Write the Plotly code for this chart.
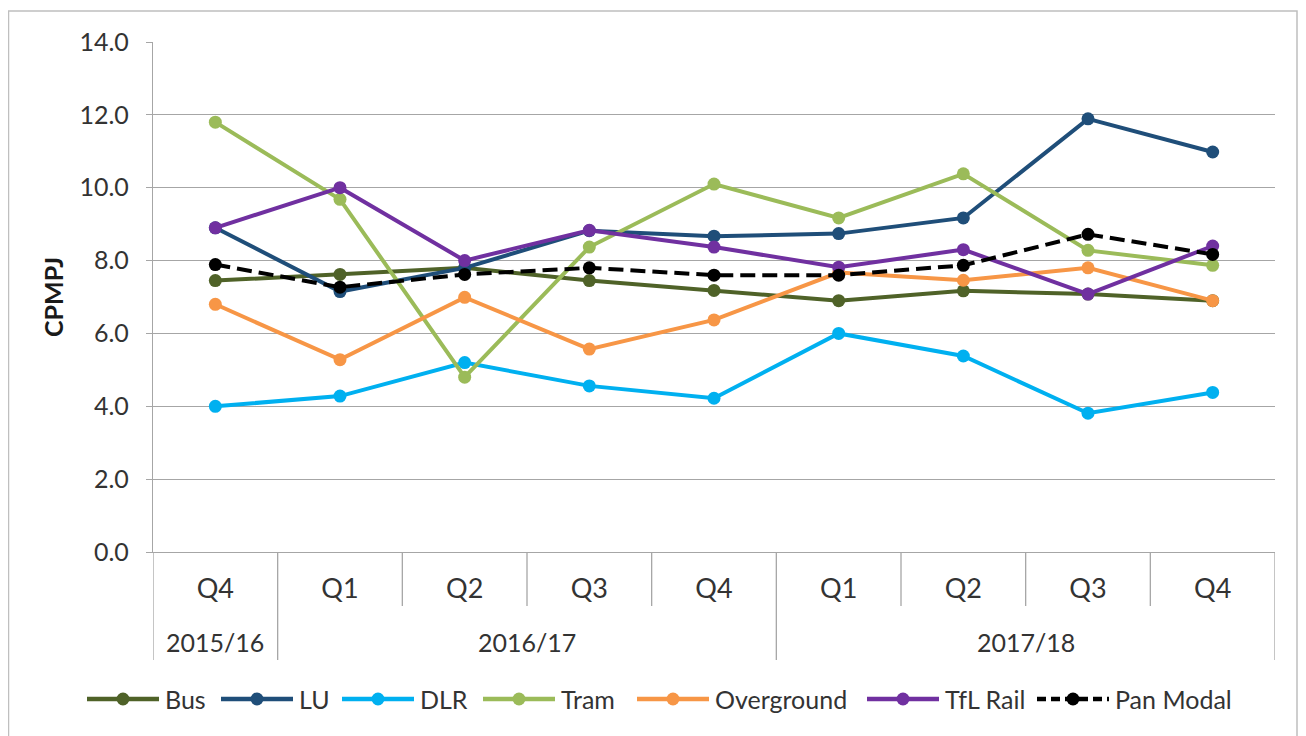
import plotly.graph_objects as go

# ---------------- data ----------------
quarters = ["Q4", "Q1", "Q2", "Q3", "Q4", "Q1", "Q2", "Q3", "Q4"]
years = ["2015/16", "2016/17", "2016/17", "2016/17", "2016/17",
         "2017/18", "2017/18", "2017/18", "2017/18"]

bus = [7.45, 7.62, 7.8, 7.45, 7.18, 6.9, 7.17, 7.08, 6.9]
lu = [8.9, 7.15, 7.8, 8.82, 8.67, 8.74, 9.17, 11.89, 10.98]
dlr = [4.0, 4.28, 5.2, 4.56, 4.22, 6.0, 5.38, 3.81, 4.38]
tram = [11.8, 9.68, 4.8, 8.37, 10.1, 9.17, 10.38, 8.28, 7.87]
overground = [6.8, 5.28, 6.99, 5.57, 6.37, 7.67, 7.46, 7.8, 6.9]
tfl_rail = [8.9, 10.0, 8.0, 8.83, 8.37, 7.82, 8.3, 7.08, 8.4]
pan_modal = [7.89, 7.27, 7.62, 7.8, 7.6, 7.6, 7.87, 8.72, 8.17]

series_names = ["Bus", "LU", "DLR", "Tram", "Overground", "TfL Rail", "Pan Modal"]
series_values = [bus, lu, dlr, tram, overground, tfl_rail, pan_modal]
series_colors = ["#4F6228", "#1F4E79", "#00B0F0", "#9BBB59", "#F79646", "#7030A0", "#000000"]

y_title = "CPMPJ"

# ---------------- layout geometry ----------------
OFF = 8                      # page offset of the figure (body margin)
W, H = 1306 - OFF, 736 - OFF
L0, T0 = 153, 42             # plot-area top-left in page pixels
PW, PH = 1122, 510
L, T = L0 - OFF, T0 - OFF
R, B = W - L - PW, H - T - PH


def px_x(px):
    return (px - L0) / PW


def px_y(py):
    return (T0 + PH - py) / PH


FONT = "Lato, 'Open Sans', sans-serif"
TEXT = "#333333"
GRID = "#A6A6A6"

x_idx = list(range(len(quarters)))

fig = go.Figure()
for name, vals, col in zip(series_names, series_values, series_colors):
    dash = "15px,7px" if name == "Pan Modal" else "solid"
    fig.add_trace(go.Scatter(
        x=x_idx, y=vals, name=name, mode="lines+markers",
        line=dict(color=col, width=4, dash=dash),
        marker=dict(color=col, size=13, symbol="circle"),
        showlegend=False,
    ))

shapes = []
annotations = []

# outer border
shapes.append(dict(type="rect", xref="paper", yref="paper",
                   x0=px_x(OFF + 0.5), x1=px_x(1297), y0=px_y(745), y1=px_y(11),
                   line=dict(color="#BFBFBF", width=1.5), layer="below"))

# category dividers
short_bottom = px_y(606)
long_bottom = px_y(660)
bounds = [-0.5] + [i + 0.5 for i in x_idx]
for b in bounds:
    i_left = int(b - 0.5)
    i_right = int(b + 0.5)
    is_long = (i_left < 0 or i_right >= len(years) or years[i_left] != years[i_right])
    shapes.append(dict(type="line", xref="x", yref="paper",
                       x0=b, x1=b, y0=0, y1=long_bottom if is_long else short_bottom,
                       line=dict(color=GRID, width=1.3)))

# year labels
seen = []
for yv in years:
    if yv not in seen:
        seen.append(yv)
for yv in seen:
    idx = [i for i, v in enumerate(years) if v == yv]
    annotations.append(dict(x=sum(idx) / len(idx), y=px_y(642), xref="x", yref="paper",
                            text=yv, showarrow=False, yanchor="middle",
                            font=dict(family=FONT, size=25, color=TEXT)))

# manual legend (line + marker + text)
legend_start_px = [87, 221, 342, 483, 637, 867, 1037]
legend_line_len = 72
legend_cy = 699
legend_y = px_y(legend_cy)
for name, col, x0 in zip(series_names, series_colors, legend_start_px):
    dash = "9px,5px" if name == "Pan Modal" else "solid"
    shapes.append(dict(type="line", xref="paper", yref="paper",
                       x0=px_x(x0), x1=px_x(x0 + legend_line_len), y0=legend_y, y1=legend_y,
                       line=dict(color=col, width=4.5, dash=dash)))
    cx = x0 + legend_line_len / 2
    shapes.append(dict(type="circle", xref="paper", yref="paper",
                       x0=px_x(cx - 6.5), x1=px_x(cx + 6.5),
                       y0=px_y(legend_cy + 6.5), y1=px_y(legend_cy - 6.5),
                       fillcolor=col, line=dict(color=col, width=0)))
    annotations.append(dict(x=px_x(x0 + legend_line_len + 4), y=legend_y, xref="paper", yref="paper",
                            text=name, showarrow=False, xanchor="left", yanchor="middle",
                            font=dict(family=FONT, size=25, color=TEXT)))

fig.update_layout(
    width=W, height=H,
    margin=dict(l=L, r=R, t=T, b=B),
    paper_bgcolor="white", plot_bgcolor="white",
    shapes=shapes, annotations=annotations,
    showlegend=False,
    font=dict(family=FONT, color=TEXT),
)

fig.update_xaxes(
    range=[-0.5, 8.5], tickmode="array", tickvals=x_idx, ticktext=quarters,
    showgrid=False, zeroline=False, showline=True, linecolor=GRID, linewidth=1.3,
    ticks="outside", ticklen=12, tickcolor="rgba(0,0,0,0)",
    tickfont=dict(family=FONT, size=27, color=TEXT), fixedrange=True,
)
fig.update_yaxes(
    range=[0, 14], dtick=2, tick0=0, tickformat=".1f",
    showgrid=True, gridcolor=GRID, gridwidth=1.3, zeroline=False,
    showline=True, linecolor=GRID, linewidth=1.3,
    ticks="outside", ticklen=6, tickcolor=GRID, ticklabelstandoff=12,
    tickfont=dict(family=FONT, size=25, color=TEXT),
    title=dict(text="<b>" + y_title + "</b>", standoff=8,
               font=dict(family=FONT, size=25, color="#1a1a1a")),
)

fig.write_html("out.html")
